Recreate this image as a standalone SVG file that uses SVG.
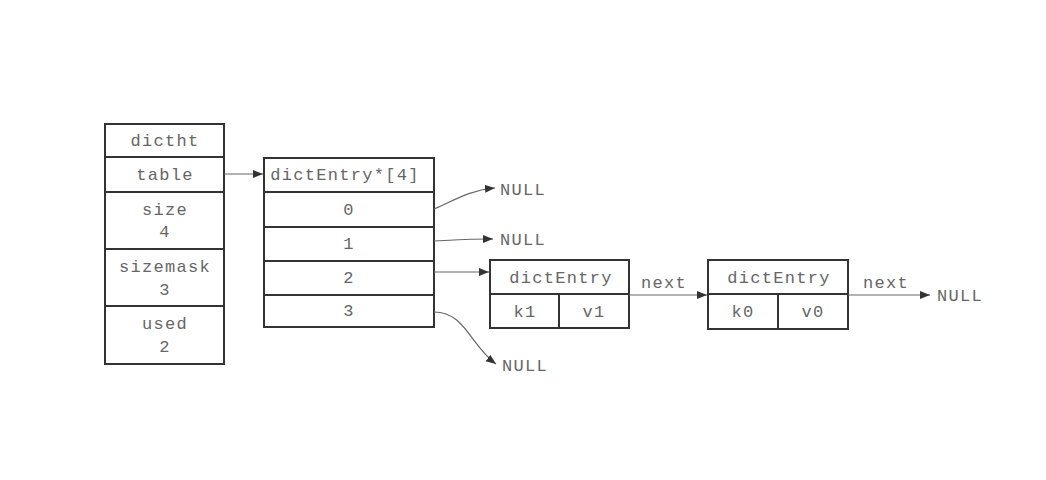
<svg xmlns="http://www.w3.org/2000/svg" width="1046" height="480" viewBox="0 0 1046 480">
<style>
.box{fill:#fff;stroke:#333;stroke-width:2}
.ln{stroke:#333;stroke-width:2;fill:none}
.t{font-family:"Liberation Mono","DejaVu Sans Mono",monospace;font-size:17px;fill:#666;text-anchor:middle;letter-spacing:1.3px}
.tl{font-family:"Liberation Mono","DejaVu Sans Mono",monospace;font-size:17px;fill:#666;letter-spacing:1.3px}
.c{stroke:#666;stroke-width:1.2;fill:none;marker-end:url(#ah)}
</style>
<defs>
<marker id="ah" viewBox="0 0 10 10" refX="10" refY="5" markerWidth="10" markerHeight="10" markerUnits="userSpaceOnUse" orient="auto">
<path d="M0,1 L10,5 L0,9 z" fill="#333"/>
</marker>
</defs>
<rect width="1046" height="480" fill="#fff"/>
<g id="dictht">
<rect class="box" x="105" y="124" width="119" height="240"/>
<line class="ln" x1="105" y1="157" x2="224" y2="157"/>
<line class="ln" x1="105" y1="192" x2="224" y2="192"/>
<line class="ln" x1="105" y1="249" x2="224" y2="249"/>
<line class="ln" x1="105" y1="306" x2="224" y2="306"/>
<text class="t" x="165" y="146">dictht</text>
<text class="t" x="165" y="180">table</text>
<text class="t" x="165" y="215">size</text>
<text class="t" x="165" y="237">4</text>
<text class="t" x="165" y="272">sizemask</text>
<text class="t" x="165" y="295">3</text>
<text class="t" x="165" y="329">used</text>
<text class="t" x="165" y="352">2</text>
</g>
<g id="table">
<rect class="box" x="264" y="158" width="170" height="169"/>
<line class="ln" x1="264" y1="192" x2="434" y2="192"/>
<line class="ln" x1="264" y1="227" x2="434" y2="227"/>
<line class="ln" x1="264" y1="261" x2="434" y2="261"/>
<line class="ln" x1="264" y1="295" x2="434" y2="295"/>
<text class="t" x="345" y="180">dictEntry*[4]</text>
<text class="t" x="349" y="215">0</text>
<text class="t" x="349" y="249">1</text>
<text class="t" x="349" y="283">2</text>
<text class="t" x="349" y="316">3</text>
</g>
<g id="entry1">
<rect class="box" x="490" y="260" width="139" height="68"/>
<line class="ln" x1="490" y1="294" x2="629" y2="294"/>
<line class="ln" x1="559" y1="294" x2="559" y2="328"/>
<text class="t" x="561" y="283">dictEntry</text>
<text class="t" x="525" y="317">k1</text>
<text class="t" x="594" y="317">v1</text>
</g>
<g id="entry0">
<rect class="box" x="708" y="260" width="140" height="69"/>
<line class="ln" x1="708" y1="294" x2="848" y2="294"/>
<line class="ln" x1="778" y1="294" x2="778" y2="329"/>
<text class="t" x="779" y="283">dictEntry</text>
<text class="t" x="743" y="317">k0</text>
<text class="t" x="813" y="317">v0</text>
</g>
<g id="nulls">
<text class="tl" x="500" y="195">NULL</text>
<text class="tl" x="500" y="245">NULL</text>
<text class="tl" x="502" y="371">NULL</text>
<text class="tl" x="937" y="301">NULL</text>
</g>
<g id="connectors">
<line class="c" x1="224" y1="174" x2="263" y2="174"/>
<path class="c" d="M434,209 C455,200 470,190 495,188"/>
<path class="c" d="M434,241 C455,240 470,239 493,239"/>
<line class="c" x1="434" y1="272" x2="489" y2="272"/>
<path class="c" d="M434,312 C465,312 470,345 496,364"/>
<line class="c" x1="629" y1="295" x2="707" y2="295"/>
<line class="c" x1="848" y1="295" x2="930" y2="295"/>
<text class="tl" x="641" y="288">next</text>
<text class="tl" x="863" y="288">next</text>
</g>
</svg>
